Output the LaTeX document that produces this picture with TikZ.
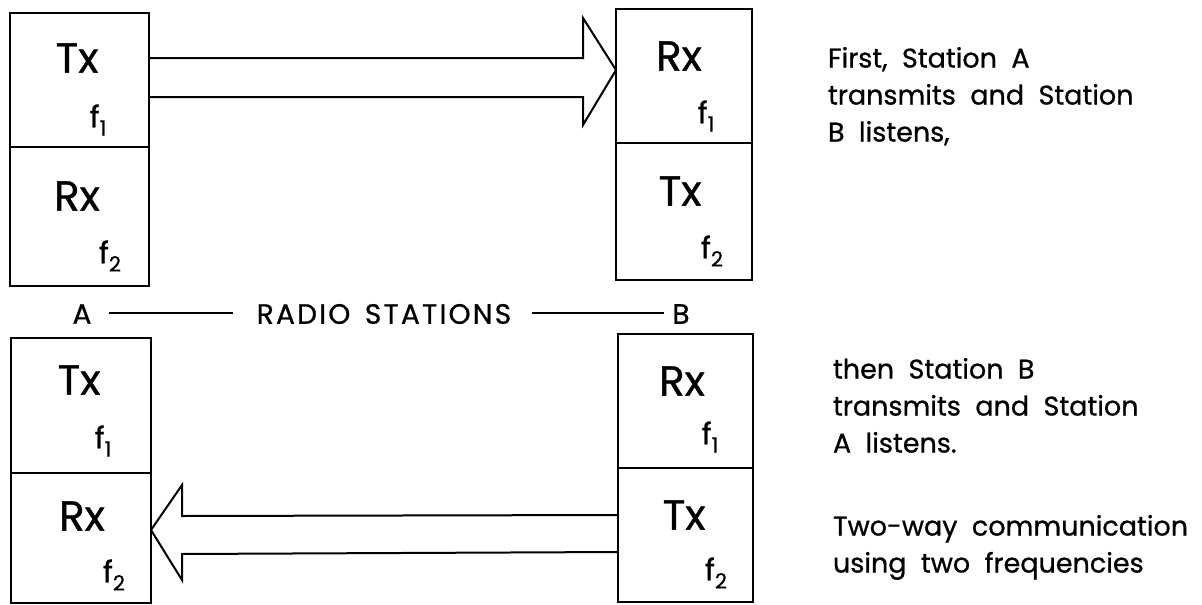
\documentclass[tikz,border=0pt]{standalone}
\usepackage{fontspec}
\setmainfont{Poppins}[FakeBold=0.8]
\newfontfamily\labfont{Poppins}[FakeBold=0.8,LetterSpace=8,WordSpace=1.5]
\newfontfamily\notefont{Poppins}[FakeBold=0.8,WordSpace=2]
\usetikzlibrary{calc}
\newcommand\fq[1]{{\fontsize{30}{30}\selectfont f\raisebox{-0.5ex}{\fontsize{21}{21}\selectfont #1}}}
\begin{document}
\begin{tikzpicture}[x=1pt,y=-1pt,line width=2pt,line join=miter,
  cell/.style={draw, inner sep=0pt, outer sep=0pt},
  big/.style={inner sep=0pt, font=\fontsize{42}{42}\selectfont},
  fl/.style={inner sep=0pt},
  lab/.style={inner sep=0pt, font=\labfont\fontsize{28}{28}\selectfont},
  note/.style={inner sep=0pt, anchor=north west, align=left, font=\notefont\fontsize{27}{37}\selectfont}]
\useasboundingbox (0,0) rectangle (1202,605);
% station boxes
\node[cell, minimum width=139pt, minimum height=134pt] (aT) at (79.5,80) {};
\node[cell, minimum width=139pt, minimum height=139pt] (aR) at (79.5,216.5) {};
\node[cell, minimum width=136pt, minimum height=134pt] (bR) at (684,76) {};
\node[cell, minimum width=136pt, minimum height=137pt] (bT) at (684,211.5) {};
\node[cell, minimum width=140pt, minimum height=135pt] (cT) at (81,405.5) {};
\node[cell, minimum width=140pt, minimum height=130pt] (cR) at (81,538) {};
\node[cell, minimum width=135pt, minimum height=134pt] (dR) at (685.5,401) {};
\node[cell, minimum width=135pt, minimum height=134pt] (dT) at (685.5,535) {};
% labels in boxes
\node[big] (aTl) at (77,58) {Tx};
\node[fl] (aTf) at (98,120) {\fq{1}};
\node[big] (aRl) at (77,196) {Rx};
\node[fl] (aRf) at (110,256) {\fq{2}};
\node[big] (bRl) at (679,56) {Rx};
\node[fl] (bRf) at (706,116) {\fq{1}};
\node[big] (bTl) at (680,191) {Tx};
\node[fl] (bTf) at (712,251) {\fq{2}};
\node[big] (cTl) at (79,380) {Tx};
\node[fl] (cTf) at (103,441) {\fq{1}};
\node[big] (cRl) at (82,516) {Rx};
\node[fl] (cRf) at (114,575) {\fq{2}};
\node[big] (dRl) at (682,381) {Rx};
\node[fl] (dRf) at (710,437) {\fq{1}};
\node[big] (dTl) at (684,515) {Tx};
\node[fl] (dTf) at (716,573) {\fq{2}};
% big arrows
\draw ($(aT.east)+(0,-22)$) -- (583,58) -- (583,18) -- ($(bR.west)+(0,-6)$)
  -- (583,125) -- (583,97) -- ($(aT.east)+(0,17)$);
\draw ($(dT.west)+(0,-20)$) -- (182,516) -- (182,485) -- ($(cR.east)+(0,-8)$)
  -- (182,580) -- (182,554) -- ($(dT.west)+(0,17)$);
% radio stations line
\node[lab] (sA) at (82,314) {A};
\node[lab] (sRS) at (384,314) {RADIO STATIONS};
\node[lab] (sB) at (681,314) {B};
\draw ($(sA.east)+(17,-1)$) -- (233,313);
\draw (532,313) -- ($(sB.west)+(-7,-1)$);
% notes
\node[note] (n1) at (827,46) {First, Station A\\transmits and Station\\B listens,};
\node[note] (n2) at (832,357) {then Station B\\transmits and Station\\A listens.};
\node[note] (n3) at (832,514) {Two-way communication\\using two frequencies};
\end{tikzpicture}
\end{document}
